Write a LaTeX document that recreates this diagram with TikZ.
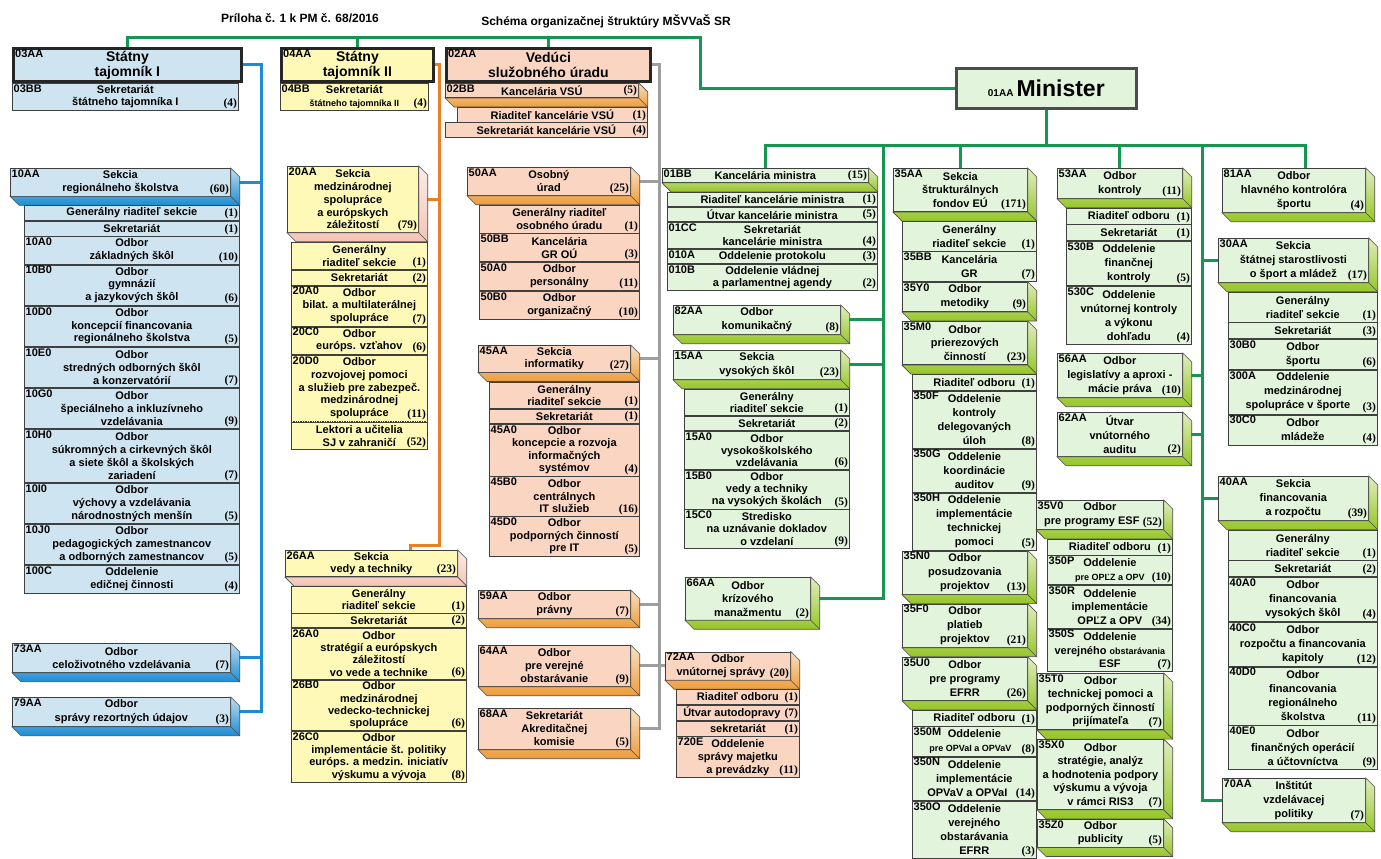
\documentclass[tikz,border=0pt]{standalone}
\usepackage{fontspec}
\newfontfamily\ls{Liberation Sans}
\newfontfamily\lt{Liberation Serif}
\usetikzlibrary{positioning}
\pgfdeclarelayer{bg}
\pgfsetlayers{bg,main}

\definecolor{blueF}{RGB}{207,228,241}
\definecolor{blueD}{RGB}{28,141,212}
\definecolor{yelF}{RGB}{254,249,183}
\definecolor{yelD}{RGB}{243,196,180}
\definecolor{salF}{RGB}{250,214,194}
\definecolor{salD}{RGB}{238,156,58}
\definecolor{grnF}{RGB}{226,244,219}
\definecolor{grnD}{RGB}{150,198,40}
\definecolor{grnL}{RGB}{22,150,80}
\definecolor{oraL}{RGB}{233,128,38}
\definecolor{grayL}{RGB}{158,158,158}

\def\lh{14}
\def\bd{9}
\newcommand\bx{\ls\bfseries\fontsize{11}{\lh}\selectfont}
\newcommand\nm{\lt\bfseries\fontsize{11.5}{\lh}\selectfont}
\newcommand\tf{\ls\bfseries\fontsize{14}{15}\selectfont}
\newcommand\ttl{\ls\bfseries\fontsize{12}{14}\selectfont}
\newcommand\sm{\fontsize{9}{\lh}\selectfont}
% 3D edge right of and under a head box
\newcommand\bev[2]{%
  \draw[black!70, line width=.6pt, top color=#2!30, bottom color=#2]
    (#1.north east) -- ([shift={(\bd,\bd)}]#1.north east) -- ([shift={(\bd,\bd)}]#1.south east)
    -- ([shift={(\bd,\bd)}]#1.south west) -- (#1.south west) -- (#1.south east) -- cycle;
  \draw[black!70, line width=.6pt] (#1.south east) -- ([shift={(\bd,\bd)}]#1.south east);}

\tikzset{
  unit/.style={draw=black!75, line width=.7pt, inner sep=1pt, align=center, font=\bx},
  bu/.style={unit, fill=blueF}, ye/.style={unit, fill=yelF},
  sa/.style={unit, fill=salF}, gn/.style={unit, fill=grnF},
  hdbox/.style={draw=black!85, line width=2.8pt, font=\tf, minimum height=33},
  wd/.style={minimum width=#1},
  nl/.style={minimum height={#1*\lh+2}},
  cd/.style={label={[anchor=north west, inner sep=1.5pt, font=\bx]north west:#1}},
  cdt/.style={label={[anchor=north west, inner sep=3pt, font=\bx]north west:#1}},
  ct/.style={label={[anchor=south east, inner sep=1.5pt, font=\nm]south east:(#1)}},
  bline/.style={draw=blueD, line width=3pt},
  oline/.style={draw=oraL, line width=3pt},
  gyline/.style={draw=grayL, line width=3pt},
  gline/.style={draw=grnL, line width=3pt}
}

\begin{document}
\begin{tikzpicture}[x=1pt, y=-1pt]
\useasboundingbox (0,0) rectangle (1381,859);

% headline
\node[font=\ttl] (t1) at (300,18) {Príloha č. 1 k PM č. 68/2016};
\node[font=\ttl] (t2) at (606,21) {Schéma organizačnej štruktúry MŠVVaŠ SR};

% top row
\def\lh{12.5}
\node[unit, hdbox, fill=blueF, wd=228, anchor=north west, cdt=03AA] (s1) at (12,47) {Státny\\tajomník I};
\node[bu, nl=2, wd=226, anchor=north west, cd=03BB, ct=4] (r03) at (s1.south west) {Sekretariát\\štátneho tajomníka I};
\node[unit, hdbox, fill=yelF, wd=152, anchor=north west, cdt=04AA] (s2) at (280,47) {Státny\\tajomník II};
\node[ye, nl=2, wd=148, anchor=north west, cd=04BB, ct=4] (r04) at (s2.south west) {Sekretariát\\{\sm štátneho tajomníka II}};
\node[unit, hdbox, fill=salF, wd=204, anchor=north west, cdt=02AA] (s3) at (445,47) {Vedúci\\služobného úradu};
\node[sa, nl=1, wd=193, anchor=north west, cd=02BB, ct=5] (k02) at (s3.south west) {Kancelária VSÚ};
\bev{k02}{salD}
\node[sa, nl=1, wd=190, anchor=north east, ct=1] (r02a) at ([shift={(\bd,\bd)}]k02.south east) {Riaditeľ kancelárie VSÚ};
\node[sa, nl=1, wd=202, anchor=north east, ct=4] (r02b) at (r02a.south east) {Sekretariát kancelárie VSÚ};
\node[unit, fill=grnF, draw=black!70, line width=2.6pt, wd=180, minimum height=40, anchor=north west] (m) at (955,67) {{\fontsize{10}{10}\selectfont 01AA} {\fontsize{23}{24}\selectfont Minister}};

% blue column
\def\lh{12.8}
\node[bu, nl=2, wd=220, anchor=north west, cd=10AA, ct=60] (s10) at (10,168) {Sekcia\\regionálneho školstva};
\bev{s10}{blueD}
\node[bu, nl=1, wd=215, anchor=north east, ct=1] (a1) at ([shift={(\bd,\bd)}]s10.south east) {Generálny riaditeľ sekcie};
\node[bu, nl=1, wd=215, below=0pt of a1, ct=1] (a2) {Sekretariát};
\node[bu, nl=2, wd=215, below=0pt of a2, cd=10A0, ct=10] (a3) {Odbor\\základných škôl};
\node[bu, nl=3, wd=215, below=0pt of a3, cd=10B0, ct=6] (a4) {Odbor\\gymnázií\\a jazykových škôl};
\node[bu, nl=3, wd=215, below=0pt of a4, cd=10D0, ct=5] (a5) {Odbor\\koncepcií financovania\\regionálneho školstva};
\node[bu, nl=3, wd=215, below=0pt of a5, cd=10E0, ct=7] (a6) {Odbor\\stredných odborných škôl\\a konzervatórií};
\node[bu, nl=3, wd=215, below=0pt of a6, cd=10G0, ct=9] (a7) {Odbor\\špeciálneho a inkluzívneho\\vzdelávania};
\node[bu, nl=4, wd=215, below=0pt of a7, cd=10H0, ct=7] (a8) {Odbor\\súkromných a cirkevných škôl\\a siete škôl a školských\\zariadení};
\node[bu, nl=3, wd=215, below=0pt of a8, cd=10I0, ct=5] (a9) {Odbor\\výchovy a vzdelávania\\národnostných menšín};
\node[bu, nl=3, wd=215, below=0pt of a9, cd=10J0, ct=5] (a10) {Odbor\\pedagogických zamestnancov\\a odborných zamestnancov};
\node[bu, nl=2, wd=215, below=0pt of a10, cd=100C, ct=4] (a11) {Oddelenie\\edičnej činnosti};
\def\lh{13.5}
\node[bu, nl=2, wd=218, anchor=north west, cd=73AA, ct=7] (o73) at (12,643) {Odbor\\celoživotného vzdelávania};
\bev{o73}{blueD}
\node[bu, nl=2, wd=218, anchor=north west, cd=79AA, ct=3] (o79) at (12,697) {Odbor\\správy rezortných údajov};
\bev{o79}{blueD}

% yellow column
\def\lh{12.8}
\node[ye, nl=5, wd=131, anchor=north west, cd=20AA, ct=79] (s20) at (287,166) {Sekcia\\medzinárodnej\\spolupráce\\a európskych\\záležitostí};
\bev{s20}{yelD}
\node[ye, nl=2, wd=136, anchor=north east, ct=1] (b1) at ([shift={(\bd,\bd)}]s20.south east) {Generálny\\riaditeľ sekcie};
\node[ye, nl=1, wd=136, below=0pt of b1, ct=2] (b2) {Sekretariát};
\node[ye, nl=3, wd=136, below=0pt of b2, cd=20A0, ct=7] (b3) {Odbor\\bilat. a multilaterálnej\\spolupráce};
\node[ye, nl=2, wd=136, below=0pt of b3, cd=20C0, ct=6] (b4) {Odbor\\európs. vzťahov};
\node[ye, nl=5, wd=136, below=0pt of b4, cd=20D0, ct=11] (b5) {Odbor\\rozvojovej pomoci\\a služieb pre zabezpeč.\\medzinárodnej\\spolupráce};
\node[ye, nl=2, wd=136, below=0pt of b5, ct=52] (b6) {Lektori a učitelia\\SJ v zahraničí};
\draw[yelF, line width=1.4pt] ([xshift=.5pt]b5.south west) -- ([xshift=-.5pt]b5.south east);
\draw[black!75, densely dotted, line width=.7pt] (b5.south west) -- (b5.south east);
\def\lh{12.2}
\node[ye, nl=2, wd=172, anchor=north west, cd=26AA, ct=23] (s26) at (285,550) {Sekcia\\vedy a techniky};
\bev{s26}{yelD}
\node[ye, nl=2, wd=175, anchor=north east, ct=1] (c1) at ([shift={(\bd,\bd)}]s26.south east) {Generálny\\riaditeľ sekcie};
\node[ye, nl=1, wd=175, below=0pt of c1, ct=2] (c2) {Sekretariát};
\node[ye, nl=4, wd=175, below=0pt of c2, cd=26A0, ct=6] (c3) {Odbor\\stratégií a európskych\\záležitostí\\vo vede a technike};
\node[ye, nl=4, wd=175, below=0pt of c3, cd=26B0, ct=6] (c4) {Odbor\\medzinárodnej\\vedecko-technickej\\spolupráce};
\node[ye, nl=4, wd=175, below=0pt of c4, cd=26C0, ct=8] (c5) {Odbor\\implementácie št. politiky\\európs. a medzin. iniciatív\\výskumu a vývoja};

% salmon column
\def\lh{13}
\node[sa, nl=2, wd=163, anchor=north west, cd=50AA, ct=25] (s50) at (467,167) {Osobný\\úrad};
\bev{s50}{salD}
\node[sa, nl=2, wd=160, anchor=north east, ct=1] (d1) at ([shift={(\bd,\bd)}]s50.south east) {Generálny riaditeľ\\osobného úradu};
\node[sa, nl=2, wd=160, below=0pt of d1, cd=50BB, ct=3] (d2) {Kancelária\\GR OÚ};
\node[sa, nl=2, wd=160, below=0pt of d2, cd=50A0, ct=11] (d3) {Odbor\\personálny};
\node[sa, nl=2, wd=160, below=0pt of d3, cd=50B0, ct=10] (d4) {Odbor\\organizačný};
\def\lh{12.4}
\node[sa, nl=2, wd=152, anchor=north west, cd=45AA, ct=27] (s45) at (478,345) {Sekcia\\informatiky};
\bev{s45}{salD}
\node[sa, nl=2, wd=150, anchor=north east, ct=1] (e1) at ([shift={(\bd,\bd)}]s45.south east) {Generálny\\riaditeľ sekcie};
\node[sa, nl=1, wd=150, below=0pt of e1, ct=1] (e2) {Sekretariát};
\node[sa, nl=4, wd=150, below=0pt of e2, cd=45A0, ct=4] (e3) {Odbor\\koncepcie a rozvoja\\informačných\\systémov};
\node[sa, nl=3, wd=150, below=0pt of e3, cd=45B0, ct=16] (e4) {Odbor\\centrálnych\\IT služieb};
\node[sa, nl=3, wd=150, below=0pt of e4, cd=45D0, ct=5] (e5) {Odbor\\podporných činností\\pre IT};
\def\lh{13}
\node[sa, nl=2, wd=152, anchor=north west, cd=59AA, ct=7] (o59) at (478,590) {Odbor\\právny};
\bev{o59}{salD}
\node[sa, nl=3, wd=152, anchor=north west, cd=64AA, ct=9] (o64) at (478,645) {Odbor\\pre verejné\\obstarávanie};
\bev{o64}{salD}
\node[sa, nl=3, wd=152, anchor=north west, cd=68AA, ct=5] (o68) at (478,708) {Sekretariát\\Akreditačnej\\komisie};
\bev{o68}{salD}
\node[sa, nl=2, wd=125, anchor=north west, cd=72AA, ct=20] (o72) at (665,651.5) {Odbor\\vnútornej správy\hspace*{14pt}};
\bev{o72}{salD}
\node[sa, nl=1, wd=123, anchor=north east, ct=1] (f1) at ([shift={(\bd,\bd)}]o72.south east) {Riaditeľ odboru};
\node[sa, nl=1, wd=123, below=0pt of f1, ct=7] (f2) {Útvar autodopravy\hspace*{12pt}};
\node[sa, nl=1, wd=123, below=0pt of f2, ct=1] (f3) {sekretariát};
\node[sa, nl=3, wd=123, below=0pt of f3, cd=720E, ct=11] (f4) {Oddelenie\\správy majetku\\a prevádzky};

% minister's office column
\def\lh{12.2}
\node[gn, nl=1, wd=206, anchor=north west, cd=01BB, ct=15] (k01) at (662,168) {Kancelária ministra};
\bev{k01}{grnD}
\node[gn, nl=1, wd=210, anchor=north east, ct=1] (g1) at ([shift={(\bd,\bd)}]k01.south east) {Riaditeľ kancelárie ministra};
\node[gn, nl=1, wd=210, below=0pt of g1, ct=5] (g2) {Útvar kancelárie ministra};
\node[gn, nl=2, wd=210, below=0pt of g2, cd=01CC, ct=4] (g3) {Sekretariát\\kancelárie ministra};
\node[gn, nl=1, wd=210, below=0pt of g3, cd=010A, ct=3] (g4) {Oddelenie protokolu};
\node[gn, nl=2, wd=210, below=0pt of g4, cd=010B, ct=2] (g5) {Oddelenie vládnej\\a parlamentnej agendy};
\def\lh{13.5}
\node[gn, nl=2, wd=167, anchor=north west, cd=82AA, ct=8] (o82) at (673,305) {Odbor\\komunikačný};
\bev{o82}{grnD}
\node[gn, nl=2, wd=167, anchor=north west, cd=15AA, ct=23] (s15) at (673,350) {Sekcia\\vysokých škôl};
\bev{s15}{grnD}
\def\lh{12.2}
\node[gn, nl=2, wd=165, anchor=north east, ct=1] (h1) at ([shift={(\bd,\bd)}]s15.south east) {Generálny\\riaditeľ sekcie};
\node[gn, nl=1, wd=165, below=0pt of h1, ct=2] (h2) {Sekretariát};
\node[gn, nl=3, wd=165, below=0pt of h2, cd=15A0, ct=6] (h3) {Odbor\\vysokoškolského\\vzdelávania};
\node[gn, nl=3, wd=165, below=0pt of h3, cd=15B0, ct=5] (h4) {Odbor\\vedy a techniky\\na vysokých školách};
\node[gn, nl=3, wd=165, below=0pt of h4, cd=15C0, ct=9] (h5) {Stredisko\\na uznávanie dokladov\\o vzdelaní};
\def\lh{13.5}
\node[gn, nl=3, wd=125, anchor=north west, cd=66AA, ct=2] (o66) at (685,577) {Odbor\\krízového\\manažmentu};
\bev{o66}{grnD}

% structural funds column
\def\lh{13.8}
\node[gn, nl=3, wd=134, anchor=north west, cd=35AA, ct=171] (s35) at (893,168) {Sekcia\\štrukturálnych\\fondov EÚ};
\bev{s35}{grnD}
\node[gn, nl=2, wd=134, anchor=north east, ct=1] (n1) at ([shift={(\bd,\bd)}]s35.south east) {Generálny\\riaditeľ sekcie};
\node[gn, nl=2, wd=134, below=0pt of n1, cd=35BB, ct=7] (n2) {Kancelária\\GR};
\node[gn, nl=2, wd=125, anchor=north west, cd=35Y0, ct=9] (o35y) at (n2.south west) {Odbor\\metodiky};
\bev{o35y}{grnD}
\node[gn, nl=3, wd=125, anchor=north west, cd=35M0, ct=23] (o35m) at ([shift={(0,\bd)}]o35y.south west) {Odbor\\prierezových\\činností};
\bev{o35m}{grnD}
\node[gn, nl=1, wd=124, anchor=north east, ct=1] (p1) at ([shift={(\bd,\bd)}]o35m.south east) {Riaditeľ odboru};
\node[gn, nl=4, wd=124, below=0pt of p1, cd=350F, ct=8] (p2) {Oddelenie\\kontroly\\delegovaných\\úloh};
\node[gn, nl=3, wd=124, below=0pt of p2, cd=350G, ct=9] (p3) {Oddelenie\\koordinácie\\auditov};
\node[gn, nl=4, wd=124, below=0pt of p3, cd=350H, ct=5] (p4) {Oddelenie\\implementácie\\technickej\\pomoci};
\node[gn, nl=3, wd=125, anchor=north west, cd=35N0, ct=13] (o35n) at (o35m.south west |- p4.south) {Odbor\\posudzovania\\projektov};
\bev{o35n}{grnD}
\node[gn, nl=3, wd=125, anchor=north west, cd=35F0, ct=21] (o35f) at ([shift={(0,\bd)}]o35n.south west) {Odbor\\platieb\\projektov};
\bev{o35f}{grnD}
\node[gn, nl=3, wd=125, anchor=north west, cd=35U0, ct=26] (o35u) at ([shift={(0,\bd)}]o35f.south west) {Odbor\\pre programy\\EFRR};
\bev{o35u}{grnD}
\node[gn, nl=1, wd=124, anchor=north east, ct=1] (q1) at ([shift={(\bd,\bd)}]o35u.south east) {Riaditeľ odboru};
\node[gn, nl=2, wd=124, below=0pt of q1, cd=350M, ct=8] (q2) {Oddelenie\\{\sm pre OPVaI a OPVaV}\hspace*{8pt}};
\node[gn, nl=3, wd=124, below=0pt of q2, cd=350N, ct=14] (q3) {Oddelenie\\implementácie\\OPVaV a OPVaI\hspace*{14pt}};
\node[gn, nl=4, wd=124, below=0pt of q3, cd=350O, ct=3] (q4) {Oddelenie\\verejného\\obstarávania\\EFRR};

% control column
\def\lh{14}
\node[gn, nl=2, wd=125, anchor=north west, cd=53AA, ct=11] (o53) at (1057,168) {Odbor\\kontroly};
\bev{o53}{grnD}
\node[gn, nl=1, wd=125, anchor=north east, ct=1] (i1) at ([shift={(\bd,\bd)}]o53.south east) {Riaditeľ odboru};
\node[gn, nl=1, wd=125, below=0pt of i1, ct=1] (i2) {Sekretariát};
\node[gn, nl=3, wd=125, below=0pt of i2, cd=530B, ct=5] (i3) {Oddelenie\\finančnej\\kontroly};
\node[gn, nl=4, wd=125, below=0pt of i3, cd=530C, ct=4] (i4) {Oddelenie\\vnútornej kontroly\\a výkonu\\dohľadu};
\node[gn, nl=3, wd=125, anchor=north west, cd=56AA, ct=10] (o56) at (1057,353) {Odbor\\legislatívy a aproxi -\\mácie práva};
\bev{o56}{grnD}
\node[gn, nl=3, wd=125, anchor=north west, cd=62AA, ct=2] (o62) at (1057,412) {Útvar\\vnútorného\\auditu};
\bev{o62}{grnD}
\def\lh{13.6}
\node[gn, nl=2, wd=127, anchor=north west, cd=35V0, ct=52] (o35v) at (1036,500) {Odbor\\pre programy ESF\hspace*{16pt}};
\bev{o35v}{grnD}
\node[gn, nl=1, wd=125, anchor=north east, ct=1] (j1) at ([shift={(\bd,\bd)}]o35v.south east) {Riaditeľ odboru};
\node[gn, nl=2, wd=125, below=0pt of j1, cd=350P, ct=10] (j2) {Oddelenie\\{\sm pre OPĽZ a OPV}};
\node[gn, nl=3, wd=125, below=0pt of j2, cd=350R, ct=34] (j3) {Oddelenie\\implementácie\\OPĽZ a OPV};
\node[gn, nl=3, wd=125, below=0pt of j3, cd=350S, ct=7] (j4) {Oddelenie\\verejného {\sm obstarávania}\\ESF};
\node[gn, nl=4, wd=126, anchor=north west, cd=35T0, ct=7] (o35t) at (1037,673) {Odbor\\technickej pomoci a\\podporných činností\\prijímateľa};
\bev{o35t}{grnD}
\node[gn, nl=5, wd=126, anchor=north west, cd=35X0, ct=7] (o35x) at ([shift={(0,\bd)}]o35t.south west) {Odbor\\stratégie, analýz\\a hodnotenia podpory\\výskumu a vývoja\\v rámci RIS3};
\bev{o35x}{grnD}
\node[gn, minimum height=28, wd=126, anchor=north west, cd=35Z0, ct=5] (o35z) at ([shift={(0,\bd)}]o35x.south west) {Odbor\\publicity};
\bev{o35z}{grnD}

% sport and finance column
\def\lh{14}
\node[gn, nl=3, wd=143, anchor=north west, cd=81AA, ct=4] (o81) at (1222,168) {Odbor\\hlavného kontrolóra\\športu};
\bev{o81}{grnD}
\node[gn, nl=3, wd=150, anchor=north west, cd=30AA, ct=17] (s30) at (1218,238) {Sekcia\\štátnej starostlivosti\\o šport a mládež};
\bev{s30}{grnD}
\node[gn, nl=2, wd=149, anchor=north east, ct=1] (u1) at ([shift={(\bd,\bd)}]s30.south east) {Generálny\\riaditeľ sekcie};
\node[gn, nl=1, wd=149, below=0pt of u1, ct=3] (u2) {Sekretariát};
\node[gn, nl=2, wd=149, below=0pt of u2, cd=30B0, ct=6] (u3) {Odbor\\športu};
\node[gn, nl=3, wd=149, below=0pt of u3, cd=300A, ct=3] (u4) {Oddelenie\\medzinárodnej\\spolupráce v športe\hspace*{10pt}};
\node[gn, nl=2, wd=149, below=0pt of u4, cd=30C0, ct=4] (u5) {Odbor\\mládeže};
\node[gn, nl=3, wd=150, anchor=north west, cd=40AA, ct=39] (s40) at (1218,476) {Sekcia\\financovania\\a rozpočtu};
\bev{s40}{grnD}
\node[gn, nl=2, wd=149, anchor=north east, ct=1] (w1) at ([shift={(\bd,\bd)}]s40.south east) {Generálny\\riaditeľ sekcie};
\node[gn, nl=1, wd=149, below=0pt of w1, ct=2] (w2) {Sekretariát};
\node[gn, nl=3, wd=149, below=0pt of w2, cd=40A0, ct=4] (w3) {Odbor\\financovania\\vysokých škôl};
\node[gn, nl=3, wd=149, below=0pt of w3, cd=40C0, ct=12] (w4) {Odbor\\rozpočtu a financovania\\kapitoly};
\node[gn, nl=4, wd=149, below=0pt of w4, cd=40D0, ct=11] (w5) {Odbor\\financovania\\regionálneho\\školstva};
\node[gn, nl=3, wd=149, below=0pt of w5, cd=40E0, ct=9] (w6) {Odbor\\finančných operácií\\a účtovníctva};
\node[gn, nl=3, wd=143, anchor=north west, cd=70AA, ct=7] (i70) at (1222,778) {Inštitút\\vzdelávacej\\politiky};
\bev{i70}{grnD}

% connectors
\coordinate (gt) at (700,38);
\coordinate (gb) at (1048,145);
\coordinate (v4) at (883,145);
\coordinate (v6) at (1202,145);
\coordinate (bx) at (261,0);
\coordinate (ox) at (439,0);
\coordinate (ob) at (410,545);
\coordinate (gx) at (659,0);
\begin{pgfonlayer}{bg}
\draw[gline] (s1.north) |- (gt) |- (m.west);
\draw[gline] (s2.north) -- (s2.north |- gt);
\draw[gline] (s3.north) -- (s3.north |- gt);
\draw[gline] (m.south) -- (m.south |- gb);
\draw[gline] (k01.north) |- (gb) -| ([xshift=12pt]o81.north);
\draw[gline] (s35.north) -- (s35.north |- gb);
\draw[gline] (o53.north) -- (o53.north |- gb);
\draw[gline] (v4) |- (o66.east);
\draw[gline] (v4 |- o82.east) -- (o82.east);
\draw[gline] (v4 |- s15.east) -- (s15.east);
\draw[gline] (v6) |- (i70.west);
\draw[gline] (v6 |- s30.west) -- (s30.west);
\draw[gline] (v6 |- s40.west) -- (s40.west);
\draw[gline] (v6 |- o56.east) -- (o56.east);
\draw[gline] (v6 |- o62.east) -- (o62.east);
\draw[bline] (s1.east) -| (bx |- o79.east) -- (o79.east);
\draw[bline] (bx |- s10.east) -- (s10.east);
\draw[bline] (bx |- o73.east) -- (o73.east);
\draw[oline] (s2.east) -- (s2.east -| ox) |- (ob) -- (ob |- s26.north);
\draw[oline] (ox |- s20.east) -- (s20.east);
\draw[gyline] (s3.east) -- (s3.east -| gx) |- (o68.east);
\draw[gyline] (gx |- s50.east) -- (s50.east);
\draw[gyline] (gx |- s45.east) -- (s45.east);
\draw[gyline] (gx |- o59.east) -- (o59.east);
\draw[gyline] (o64.east) -- (o72.west);
\end{pgfonlayer}
\end{tikzpicture}
\end{document}
